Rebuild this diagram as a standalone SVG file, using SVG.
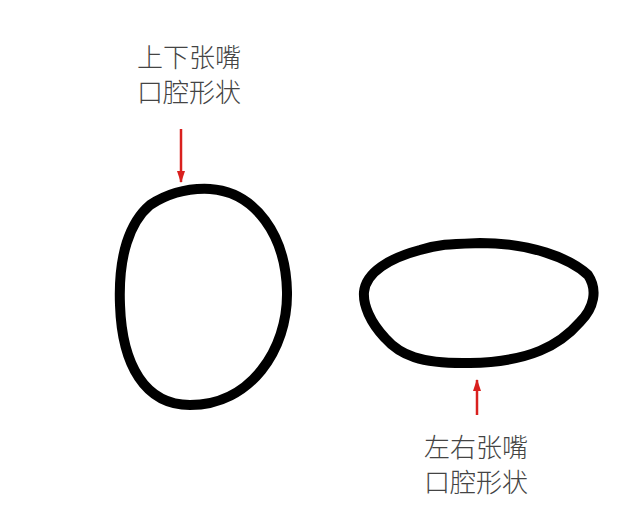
<svg xmlns="http://www.w3.org/2000/svg" width="640" height="527" viewBox="0 0 640 527">
<style>
.lbl{font-family:"Noto Sans CJK SC","Noto Sans",sans-serif;font-size:26px;font-weight:300;fill:#444;text-anchor:middle}
.shape{fill:none;stroke:#000;stroke-width:10;stroke-linecap:round;stroke-linejoin:round}
.arr{stroke:#d9201e;stroke-width:2.5;fill:none}
</style>
<defs>
<marker id="ah" viewBox="0 0 12 8" refX="11" refY="4" markerWidth="5" markerHeight="3.4" orient="auto" markerUnits="strokeWidth">
<path d="M0,0 L12,4 L0,8 z" fill="#d9201e"/>
</marker>
</defs>
<rect width="640" height="527" fill="#fff"/>
<g id="node-vertical">
<path class="shape" d="M150,205 C170,192 190,188 210,189 C255,192 286,235 287,292 C288,350 250,405 190,405 C145,405 122,365 120,305 C118,255 130,222 150,205 Z"/>
<text class="lbl" x="189" y="67">上下张嘴</text>
<text class="lbl" x="189" y="102">口腔形状</text>
</g>
<g id="node-horizontal">
<path class="shape" d="M364,292 C366,272 390,258 420,250 C440,244 450,244 480,243 C530,243 570,258 588,275 C598,290 594,308 580,322 C560,345 530,362 470,363 C420,364 400,355 385,338 C370,322 363,305 364,292 Z"/>
<text class="lbl" x="476" y="457">左右张嘴</text>
<text class="lbl" x="476" y="492">口腔形状</text>
</g>
<g id="connectors">
<line class="arr" x1="181" y1="129" x2="181" y2="182" marker-end="url(#ah)"/>
<line class="arr" x1="477" y1="415" x2="477" y2="380" marker-end="url(#ah)"/>
</g>
</svg>
